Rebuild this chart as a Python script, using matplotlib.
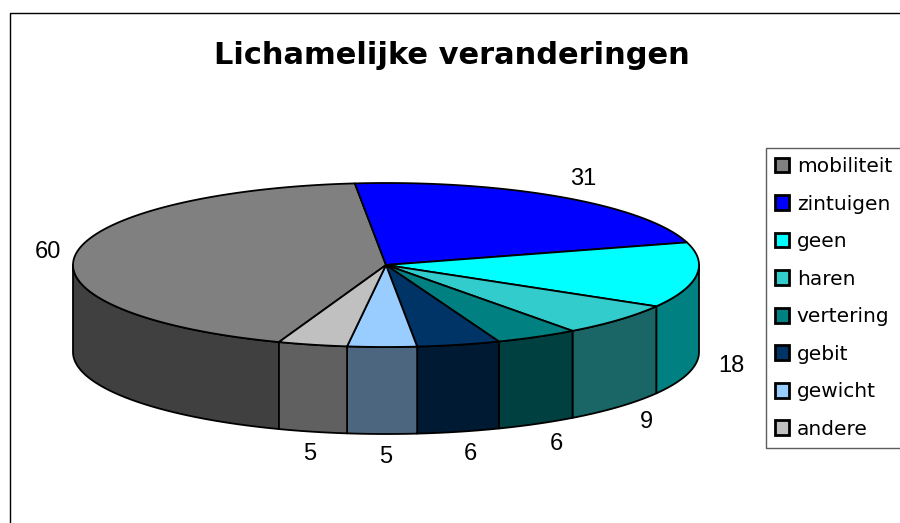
import numpy as np
import matplotlib
matplotlib.use("Agg")
import matplotlib.pyplot as plt
from matplotlib.patches import Polygon, Rectangle, Patch
from matplotlib.colors import to_rgb

# ---- data ----
categories = ["mobiliteit", "zintuigen", "geen", "haren", "vertering", "gebit", "gewicht", "andere"]
values = [60, 31, 18, 9, 6, 6, 5, 5]
colors = ["#808080", "#0000FF", "#00FFFF", "#33CCCC", "#008080", "#003366", "#99CCFF", "#C0C0C0"]
title = "Lichamelijke veranderingen"
first_slice_angle = 200.0  # degrees clockwise from 12 o'clock

# ---- layout (pixel coordinates) ----
W, H = 900, 523
cx, cy = 386.0, 265.0   # centre of top ellipse
a, b = 313.0, 82.0      # semi-axes
depth = 87.0

fig = plt.figure(figsize=(W / 100, H / 100), dpi=100)
ax = fig.add_axes([0, 0, 1, 1])
ax.set_xlim(0, W)
ax.set_ylim(H, 0)
ax.axis("off")

# chart border (only top/left visible in reference)
ax.add_patch(Rectangle((10, 13), W + 20, H + 20, fill=False, edgecolor="black", lw=1.0, zorder=0))


def pt(theta_deg, dy=0.0, sx=1.0, sy=1.0):
    t = np.radians(theta_deg)
    return cx + sx * a * np.sin(t), cy - sy * b * np.cos(t) + dy


total = float(sum(values))
spans = [v / total * 360.0 for v in values]
starts = []
s = first_slice_angle
for sp in spans:
    starts.append(s)
    s += sp


def dark(c):
    r, g, bb = to_rgb(c)
    return (r * 0.5, g * 0.5, bb * 0.5)


# side walls (front half: 90..270 deg)
for st, sp, col in zip(starts, spans, colors):
    for off in (-360, 0, 360):
        lo = max(st + off, 90.0)
        hi = min(st + sp + off, 270.0)
        if hi > lo:
            th = np.linspace(lo, hi, 80)
            top = [pt(t) for t in th]
            bot = [pt(t, depth) for t in th[::-1]]
            ax.add_patch(Polygon(top + bot, closed=True, facecolor=dark(col),
                                 edgecolor="black", lw=1.3, joinstyle="round", zorder=1))

# top surface
for st, sp, col in zip(starts, spans, colors):
    th = np.linspace(st, st + sp, 200)
    verts = [(cx, cy)] + [pt(t) for t in th]
    ax.add_patch(Polygon(verts, closed=True, facecolor=col, edgecolor="black",
                         lw=1.3, joinstyle="round", zorder=2))

# data labels
for st, sp, v in zip(starts, spans, values):
    mid = st + sp / 2.0
    front = np.cos(np.radians(mid)) < 0
    x, y = pt(mid, depth if front else 0.0, sx=1.10, sy=1.27)
    ax.text(x + 4, y + (1 if front else 0), str(v), ha="center", va="center", fontsize=17,
            family="Liberation Sans", color="black", zorder=3)

# title
ax.text(452, 64, title, ha="center", va="baseline", fontsize=22,
        fontweight="bold", family="DejaVu Sans", color="black")

# legend
handles = [Patch(facecolor=c, edgecolor="black", lw=2.0) for c in colors]
leg = fig.legend(handles, categories, loc="upper left",
                 bbox_to_anchor=(766 / W, 1 - 148 / H), bbox_transform=fig.transFigure,
                 prop={"family": "DejaVu Sans", "size": 14.5},
                 handlelength=0.68, handleheight=0.75, handletextpad=0.4,
                 labelspacing=0.92, borderpad=0.45, borderaxespad=0,
                 fancybox=False, frameon=True, edgecolor="#333333")
leg.get_frame().set_linewidth(1.0)

fig.savefig("out.png", dpi=100)
